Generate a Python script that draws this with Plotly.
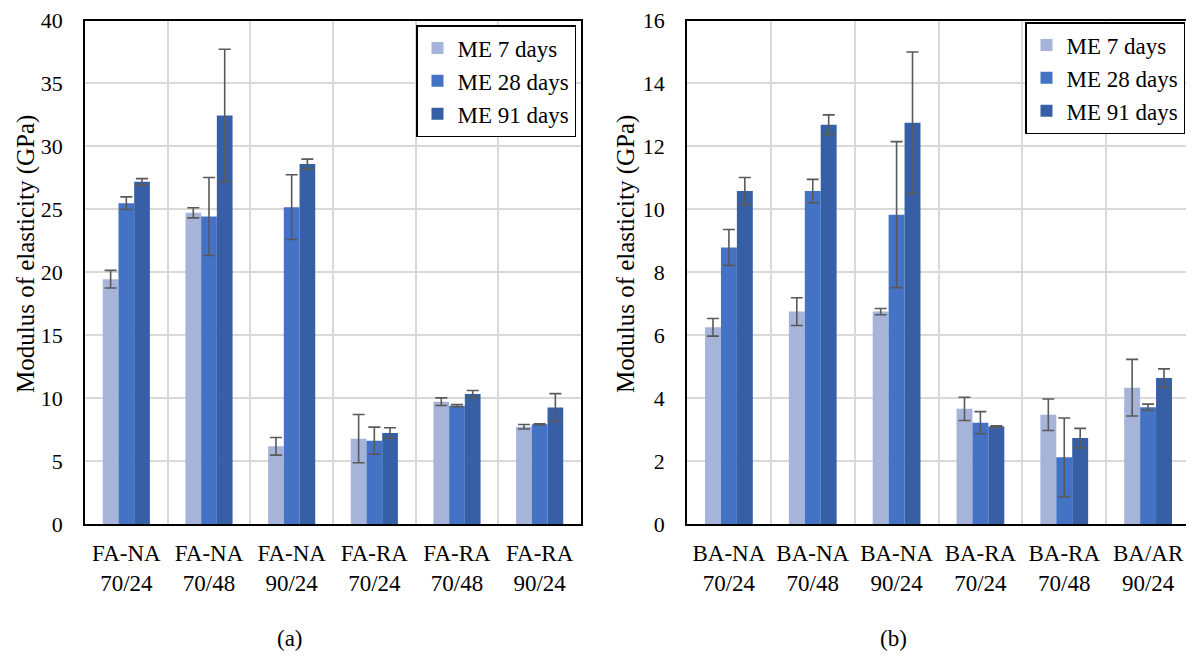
import plotly.graph_objects as go

cats_a = ["FA-NA<br>70/24", "FA-NA<br>70/48", "FA-NA<br>90/24", "FA-RA<br>70/24", "FA-RA<br>70/48", "FA-RA<br>90/24"]
cats_b = ["BA-NA<br>70/24", "BA-NA<br>70/48", "BA-NA<br>90/24", "BA-RA<br>70/24", "BA-RA<br>70/48", "BA/AR<br>90/24"]
series_names = ["ME 7 days", "ME 28 days", "ME 91 days"]

a_7 = [19.45, 24.72, 6.17, 6.78, 9.72, 7.73]
a_28 = [25.49, 24.43, 25.17, 6.62, 9.40, 7.92]
a_91 = [27.19, 32.46, 28.59, 7.23, 10.33, 9.25]
a_7_err = [0.70, 0.40, 0.70, 1.92, 0.30, 0.18]
a_28_err = [0.50, 3.10, 2.57, 1.08, 0.08, 0.05]
a_91_err = [0.25, 5.26, 0.40, 0.42, 0.28, 1.11]

b_7 = [6.25, 6.75, 6.75, 3.66, 3.47, 4.33]
b_28 = [8.79, 10.58, 9.83, 3.22, 2.12, 3.71]
b_91 = [10.58, 12.69, 12.75, 3.10, 2.73, 4.64]
b_7_err = [0.28, 0.44, 0.10, 0.37, 0.50, 0.90]
b_28_err = [0.57, 0.37, 2.32, 0.35, 1.25, 0.10]
b_91_err = [0.43, 0.31, 2.25, 0.02, 0.31, 0.29]

colors = ["#A7B4DA", "#4472C4", "#365FA5"]
FONT = "Liberation Serif, Times New Roman, serif"
ERRC = "#595959"
W, H = 1194, 657
OFF = 8  # page body margin offset

def px_x(x):
    return (x - OFF) / W

def px_y(y):
    return (H - (y - OFF)) / H

fig = go.Figure()
for name, vals, errs, col in zip(series_names, [a_7, a_28, a_91], [a_7_err, a_28_err, a_91_err], colors):
    fig.add_trace(go.Bar(x=cats_a, y=vals, name=name, marker=dict(color=col, line=dict(width=0)),
                         error_y=dict(type="data", array=errs, visible=True, color=ERRC, thickness=1.6, width=6),
                         xaxis="x", yaxis="y", legend="legend"))
for name, vals, errs, col in zip(series_names, [b_7, b_28, b_91], [b_7_err, b_28_err, b_91_err], colors):
    fig.add_trace(go.Bar(x=cats_b, y=vals, name=name, marker=dict(color=col, line=dict(width=0)),
                         error_y=dict(type="data", array=errs, visible=True, color=ERRC, thickness=1.6, width=6),
                         xaxis="x2", yaxis="y2", legend="legend2"))

ydom = [px_y(524), px_y(20.5)]
common_x = dict(type="category", tickson="boundaries", showgrid=True, gridcolor="#D9D9D9", gridwidth=2,
                showline=True, linecolor="black", linewidth=1.5, mirror=True, ticks="", automargin=False,
                tickfont=dict(family=FONT, size=23, color="black"), ticklabelstandoff=8)
common_y = dict(showgrid=True, gridcolor="#D9D9D9", gridwidth=2, showline=True, linecolor="black",
                linewidth=1.5, mirror=True, ticks="", zeroline=False, automargin=False,
                tickfont=dict(family=FONT, size=22, color="black"), ticklabelstandoff=16)

legend_common = dict(bgcolor="white", bordercolor="black", borderwidth=1.5,
                     font=dict(family=FONT, size=23, color="black"), xanchor="right", yanchor="top",
                     itemwidth=30, tracegroupgap=0)

fig.update_layout(
    width=W, height=H,
    margin=dict(l=0, r=0, t=0, b=0, autoexpand=False),
    paper_bgcolor="white", plot_bgcolor="white",
    barmode="group", bargap=0.43, bargroupgap=0,
    xaxis=dict(domain=[px_x(85), px_x(581)], anchor="y", **common_x),
    yaxis=dict(domain=ydom, anchor="x", range=[0, 40], dtick=5, **common_y),
    xaxis2=dict(domain=[px_x(687), px_x(1190)], anchor="y2", **common_x),
    yaxis2=dict(domain=ydom, anchor="x2", range=[0, 16], dtick=2, **common_y),
    legend=dict(x=px_x(576), y=px_y(25), **legend_common),
    legend2=dict(x=px_x(1185), y=px_y(22), **legend_common),
    showlegend=True,
    annotations=[
        dict(text="Modulus of elasticity (GPa)", xref="paper", yref="paper", x=px_x(26), y=px_y(254),
             textangle=-90, showarrow=False, font=dict(family=FONT, size=25, color="black"),
             xanchor="center", yanchor="middle"),
        dict(text="Modulus of elasticity (GPa)", xref="paper", yref="paper", x=px_x(626), y=px_y(254),
             textangle=-90, showarrow=False, font=dict(family=FONT, size=25, color="black"),
             xanchor="center", yanchor="middle"),
        dict(text="(a)", xref="paper", yref="paper", x=px_x(290), y=px_y(638), showarrow=False,
             font=dict(family=FONT, size=23, color="black"), xanchor="center", yanchor="middle"),
        dict(text="(b)", xref="paper", yref="paper", x=px_x(893), y=px_y(638), showarrow=False,
             font=dict(family=FONT, size=23, color="black"), xanchor="center", yanchor="middle"),
    ],
)

fig.write_html("out.html")
